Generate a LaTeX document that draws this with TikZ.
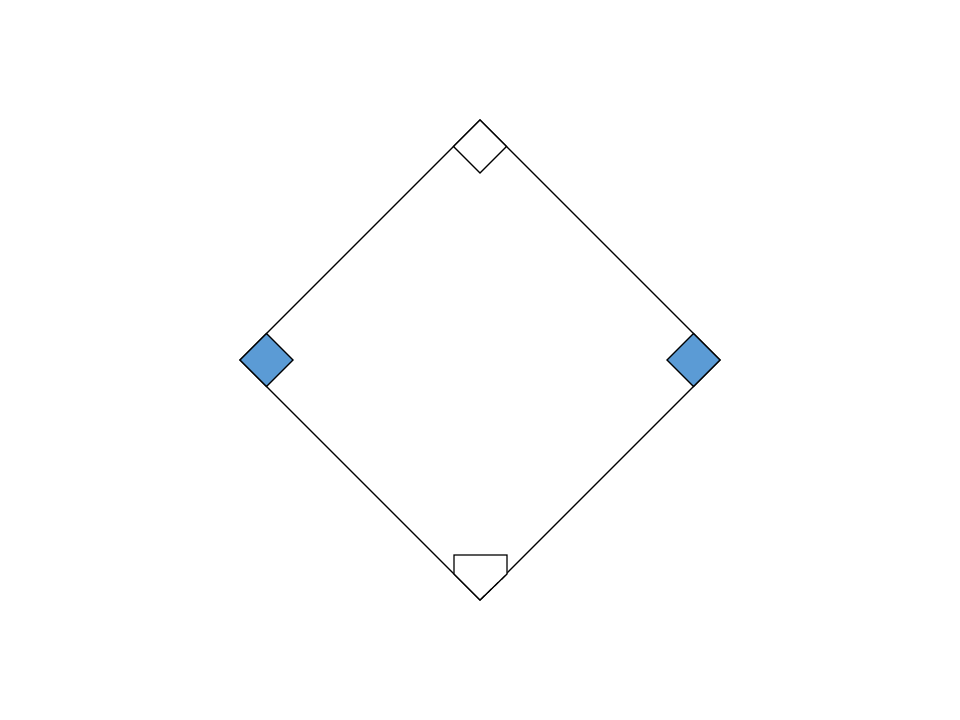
\documentclass[tikz,border=0pt]{standalone}
\definecolor{basefill}{HTML}{5B9BD5}
\begin{document}
\begin{tikzpicture}[x=0.75pt,y=-0.75pt,
  line/.style={draw=black,line width=1pt,line join=miter},
  bluebase/.style={line,fill=basefill},
  whitebase/.style={line,fill=white}]
\useasboundingbox (0,0) rectangle (960,720);
\coordinate (T) at (480,120);
\coordinate (L) at (240,360);
\coordinate (R) at (720,360);
\coordinate (B) at (480,600);
\draw[line] (T) -- (R) -- (B) -- (L) -- cycle;
% second base
\draw[whitebase] (T) -- (506.5,146.5) -- (480,173) -- (453.5,146.5) -- cycle;
% third base
\draw[bluebase] (L) -- (266.5,333.5) -- (293,360) -- (266.5,386.5) -- cycle;
% first base
\draw[bluebase] (R) -- (693.5,333.5) -- (667,360) -- (693.5,386.5) -- cycle;
% home plate
\draw[whitebase] (454,555) -- (507,555) -- (507,574) -- (B) -- (454,574) -- cycle;
\end{tikzpicture}
\end{document}
